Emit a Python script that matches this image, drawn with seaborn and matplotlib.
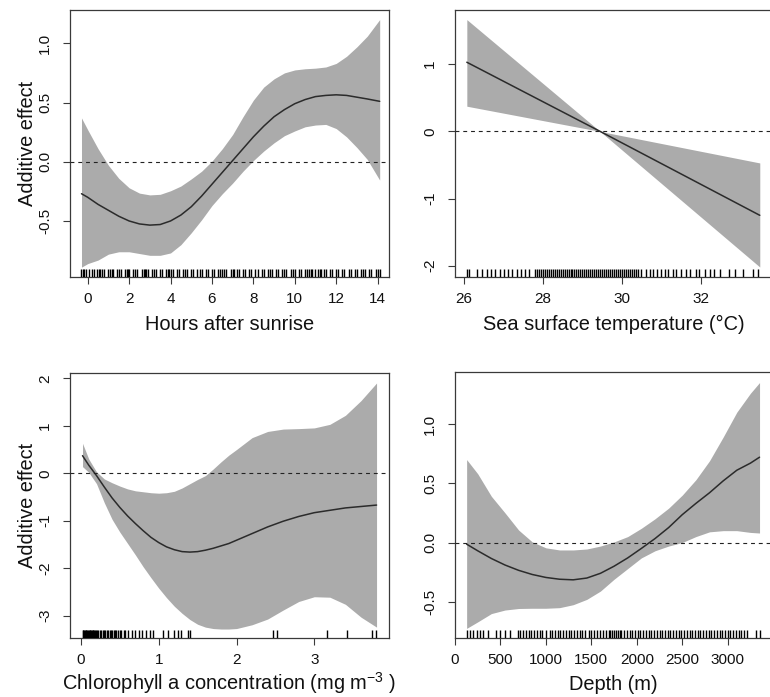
import numpy as np
import pandas as pd
import matplotlib
matplotlib.use("Agg")
import matplotlib.pyplot as plt
import seaborn as sns

# ---------------- data ----------------
# Panel 1: Hours after sunrise
hours_x = [-0.3, 0.0, 0.5, 1.0, 1.5, 2.0, 2.5, 3.0, 3.5, 4.0, 4.5, 5.0, 5.5, 6.0, 6.5,
           7.0, 7.5, 8.0, 8.5, 9.0, 9.5, 10.0, 10.5, 11.0, 11.5, 12.0, 12.5, 13.0, 13.5, 14.1]
hours_fit = [-0.27, -0.30, -0.36, -0.41, -0.46, -0.50, -0.525, -0.535, -0.53, -0.50, -0.45,
             -0.38, -0.29, -0.19, -0.09, 0.01, 0.11, 0.21, 0.30, 0.38, 0.44, 0.49, 0.525,
             0.55, 0.56, 0.565, 0.56, 0.545, 0.53, 0.51]
hours_upper = [0.37, 0.27, 0.11, -0.03, -0.14, -0.22, -0.265, -0.28, -0.275, -0.245, -0.205,
               -0.145, -0.08, 0.005, 0.11, 0.23, 0.38, 0.52, 0.63, 0.70, 0.75, 0.775, 0.785,
               0.79, 0.80, 0.83, 0.89, 0.97, 1.06, 1.20]
hours_lower = [-0.89, -0.86, -0.83, -0.78, -0.76, -0.76, -0.775, -0.79, -0.79, -0.77, -0.70,
               -0.60, -0.49, -0.37, -0.27, -0.18, -0.08, 0.01, 0.09, 0.16, 0.22, 0.26, 0.295,
               0.31, 0.315, 0.28, 0.21, 0.12, 0.02, -0.155]
hours_rug = [-0.3, -0.25, -0.2, -0.1, 0.05, 0.2, 0.3, 0.45, 0.55, 0.6, 0.7, 0.8, 1.0, 1.1,
             1.15, 1.2, 1.4, 1.5, 1.6, 1.8, 1.9, 1.95, 2.0, 2.2, 2.3, 2.4, 2.6, 2.7, 2.75, 2.8,
             2.9, 3.1, 3.2, 3.3, 3.5, 3.6, 3.8, 3.9, 3.95, 4.0, 4.1, 4.3, 4.4, 4.6, 4.7, 4.8,
             5.0, 5.1, 5.3, 5.4, 5.5, 5.7, 5.8, 6.0, 6.1, 6.3, 6.4, 6.5, 6.6, 6.7, 6.9, 7.0,
             7.05, 7.2, 7.3, 7.5, 7.6, 7.8, 7.9, 8.1, 8.2, 8.4, 8.5, 8.7, 8.8, 8.9, 9.1, 9.2,
             9.4, 9.5, 9.6, 9.8, 9.9, 10.0, 10.2, 10.3, 10.5, 10.6, 10.7, 10.8, 10.85, 11.0,
             11.1, 11.2, 11.25, 11.4, 11.5, 11.7, 11.8, 12.0, 12.1, 12.3, 12.4, 12.6, 12.7,
             12.9, 13.0, 13.2, 13.3, 13.4, 13.6, 13.7, 13.9, 14.0, 14.1]
hours_ticks = [0, 2, 4, 6, 8, 10, 12, 14]
hours_yticks = [-0.5, 0.0, 0.5, 1.0]
hours_yticklabels = ["-0.5", "0.0", "0.5", "1.0"]

# Panel 2: Sea surface temperature
sst_x = [26.07, 29.45, 33.5]
sst_fit = [1.03, 0.0, -1.25]
sst_upper = [1.665, 0.0, -0.47]
sst_lower = [0.375, 0.0, -2.02]
sst_rug = [26.07, 26.13, 26.32, 26.45, 26.57, 26.68, 26.78, 26.91, 27.02, 27.12, 27.22,
           27.33, 27.44, 27.55, 27.65, 27.8, 27.85, 27.9, 27.95, 28.0, 28.05, 28.1, 28.15,
           28.2, 28.25, 28.3, 28.35, 28.4, 28.45, 28.5, 28.55, 28.6, 28.65, 28.7, 28.75, 28.8,
           28.85, 28.9, 28.95, 29.0, 29.05, 29.1, 29.15, 29.2, 29.25, 29.3, 29.35, 29.4, 29.45,
           29.5, 29.55, 29.6, 29.65, 29.7, 29.75, 29.8, 29.85, 29.9, 29.95, 30.0, 30.05,
           30.1, 30.15, 30.2, 30.25, 30.3, 30.35, 30.4, 30.5, 30.62, 30.71, 30.79, 30.89,
           31.0, 31.09, 31.17, 31.3, 31.38, 31.51, 31.62, 31.72, 31.87, 31.97, 32.1, 32.23,
           32.35, 32.48, 32.73, 32.86, 33.07, 33.32, 33.45]
sst_ticks = [26, 28, 30, 32]
sst_yticks = [-2, -1, 0, 1]
sst_yticklabels = ["-2", "-1", "0", "1"]

# Panel 3: Chlorophyll a concentration
chl_x = [0.02, 0.1, 0.2, 0.3, 0.4, 0.5, 0.6, 0.7, 0.8, 0.9, 1.0, 1.1, 1.2, 1.3, 1.4, 1.5,
         1.6, 1.7, 1.8, 1.9, 2.0, 2.2, 2.4, 2.6, 2.8, 3.0, 3.2, 3.4, 3.6, 3.8]
chl_fit = [0.37, 0.17, -0.05, -0.29, -0.52, -0.72, -0.90, -1.06, -1.21, -1.35, -1.46,
           -1.55, -1.61, -1.65, -1.66, -1.65, -1.62, -1.58, -1.53, -1.48, -1.41, -1.27,
           -1.13, -1.01, -0.91, -0.83, -0.78, -0.73, -0.70, -0.67]
chl_upper = [0.63, 0.30, 0.03, -0.12, -0.20, -0.27, -0.33, -0.37, -0.39, -0.41, -0.42,
             -0.41, -0.38, -0.31, -0.22, -0.13, -0.05, 0.09, 0.24, 0.38, 0.50, 0.75, 0.88,
             0.93, 0.94, 0.955, 1.03, 1.22, 1.53, 1.90]
chl_lower = [0.14, 0.02, -0.22, -0.62, -0.97, -1.24, -1.48, -1.72, -1.97, -2.20, -2.42,
             -2.62, -2.80, -2.95, -3.08, -3.18, -3.24, -3.27, -3.28, -3.28, -3.27, -3.19,
             -3.07, -2.88, -2.70, -2.60, -2.61, -2.76, -3.03, -3.24]
chl_rug = [0.02, 0.03, 0.04, 0.05, 0.06, 0.07, 0.08, 0.09, 0.10, 0.11, 0.12, 0.13, 0.14,
           0.15, 0.16, 0.17, 0.18, 0.19, 0.20, 0.22, 0.24, 0.26, 0.28, 0.30, 0.31, 0.33,
           0.35, 0.37, 0.38, 0.40, 0.42, 0.44, 0.45, 0.47, 0.50, 0.52, 0.55, 0.57, 0.61,
           0.65, 0.69, 0.74, 0.78, 0.84, 0.89, 0.92, 1.05, 1.12, 1.19, 1.25, 1.29, 1.38,
           1.40, 2.47, 2.52, 3.16, 3.42, 3.74, 3.79]
chl_ticks = [0, 1, 2, 3]
chl_yticks = [-3, -2, -1, 0, 1, 2]
chl_yticklabels = ["-3", "-2", "-1", "0", "1", "2"]

# Panel 4: Depth
depth_x = [128, 250, 400, 550, 700, 850, 1000, 1150, 1300, 1450, 1600, 1750, 1900, 2050,
           2200, 2350, 2500, 2650, 2800, 2950, 3100, 3250, 3350]
depth_fit = [-0.014, -0.07, -0.135, -0.19, -0.235, -0.27, -0.295, -0.31, -0.315, -0.30,
             -0.26, -0.20, -0.13, -0.05, 0.033, 0.126, 0.235, 0.33, 0.42, 0.52, 0.61, 0.67,
             0.72]
depth_upper = [0.70, 0.58, 0.39, 0.25, 0.105, 0.005, -0.045, -0.063, -0.063, -0.055, -0.03,
               0.005, 0.05, 0.12, 0.20, 0.29, 0.40, 0.53, 0.69, 0.89, 1.10, 1.26, 1.35]
depth_lower = [-0.725, -0.67, -0.60, -0.57, -0.557, -0.555, -0.555, -0.55, -0.525, -0.48,
               -0.41, -0.31, -0.22, -0.13, -0.07, -0.03, 0.0, 0.05, 0.09, 0.10, 0.10, 0.085,
               0.08]
depth_rug = [128, 160, 200, 240, 275, 310, 365, 455, 495, 550, 600, 690, 720, 750, 780, 810,
             840, 870, 900, 930, 960, 1000, 1040, 1070, 1100, 1130, 1160, 1190, 1220, 1250,
             1280, 1310, 1340, 1370, 1400, 1430, 1470, 1500, 1530, 1560, 1600, 1630, 1660,
             1690, 1710, 1730, 1750, 1770, 1790, 1810, 1830, 1860, 1890, 1920, 1950, 1980,
             2010, 2040, 2070, 2100, 2130, 2160, 2190, 2220, 2250, 2280, 2310, 2340, 2370,
             2400, 2430, 2460, 2490, 2520, 2550, 2580, 2610, 2640, 2670, 2700, 2730, 2760,
             2790, 2820, 2850, 2880, 2910, 2940, 2970, 3000, 3030, 3060, 3090, 3120, 3150,
             3180, 3210, 3315, 3352]
depth_ticks = [0, 500, 1000, 1500, 2000, 2500, 3000]
depth_yticks = [-0.5, 0.0, 0.5, 1.0]
depth_yticklabels = ["-0.5", "0.0", "0.5", "1.0"]

xlabels = ["Hours after sunrise", "Sea surface temperature (°C)",
           "Chlorophyll a concentration (mg m$^{-3}$ )", "Depth (m)"]
ylabel_text = "Additive effect"

# ---------------- style ----------------
sns.set_style("ticks")
plt.rcParams["font.family"] = ["Liberation Sans", "DejaVu Sans"]
plt.rcParams["mathtext.fontset"] = "custom"
plt.rcParams["mathtext.rm"] = "Liberation Sans"
plt.rcParams["mathtext.default"] = "regular"
plt.rcParams["axes.unicode_minus"] = False

W, H = 770, 697
fig = plt.figure(figsize=(W / 100, H / 100), dpi=100)
fig.patch.set_facecolor("white")

def add_ax(l, r, t, b):
    return fig.add_axes([l / W, 1 - b / H, (r - l) / W, (b - t) / H])

panels = [
    dict(box=(70, 389, 10, 277), x=hours_x, fit=hours_fit, up=hours_upper, lo=hours_lower,
         rug=hours_rug, xt=hours_ticks, xtl=[str(v) for v in hours_ticks],
         yt=hours_yticks, ytl=hours_yticklabels, xlim=(-0.855, 14.55), ylim=(-0.973, 1.281),
         xlabel=xlabels[0], ylabel=True, rlw=1.6, xlab_off=38),
    dict(box=(455, 772, 10, 277), x=sst_x, fit=sst_fit, up=sst_upper, lo=sst_lower,
         rug=sst_rug, xt=sst_ticks, xtl=[str(v) for v in sst_ticks],
         yt=sst_yticks, ytl=sst_yticklabels, xlim=(25.77, 33.81), ylim=(-2.169, 1.808),
         xlabel=xlabels[1], ylabel=False, rlw=1.3, xlab_off=38),
    dict(box=(70, 389, 373, 638), x=chl_x, fit=chl_fit, up=chl_upper, lo=chl_lower,
         rug=chl_rug, xt=chl_ticks, xtl=[str(v) for v in chl_ticks],
         yt=chl_yticks, ytl=chl_yticklabels, xlim=(-0.141, 3.96), ylim=(-3.469, 2.111),
         xlabel=xlabels[2], ylabel=True, rlw=1.2, xlab_off=32),
    dict(box=(455, 772, 372, 638), x=depth_x, fit=depth_fit, up=depth_upper, lo=depth_lower,
         rug=depth_rug, xt=depth_ticks, xtl=[str(v) for v in depth_ticks],
         yt=depth_yticks, ytl=depth_yticklabels, xlim=(0, 3487), ylim=(-0.806, 1.439),
         xlabel=xlabels[3], ylabel=False, rlw=1.6, xlab_off=37),
]

band_color = "#ababab"
line_color = "#2b2b2b"
edge_color = "#3a3a3a"

for p in panels:
    l, r, t, b = p["box"]
    ax = add_ax(l, r, t, b)
    ax.set_facecolor("white")
    ax.fill_between(p["x"], p["lo"], p["up"], color=band_color, lw=0, zorder=1)
    df = pd.DataFrame({"x": p["x"], "y": p["fit"]})
    sns.lineplot(data=df, x="x", y="y", ax=ax, color=line_color, lw=1.1,
                 estimator=None, sort=False, zorder=3)
    ax.axhline(0, color="#222222", lw=0.8, ls=(0, (3.5, 3.5)), zorder=4)
    sns.rugplot(x=p["rug"], ax=ax, height=0.03, color="black", lw=p["rlw"],
                expand_margins=False, zorder=5)
    ax.set_xlim(*p["xlim"])
    ax.set_ylim(*p["ylim"])
    ax.set_xticks(p["xt"])
    ax.set_xticklabels(p["xtl"])
    ax.set_yticks(p["yt"])
    ax.set_yticklabels(p["ytl"], rotation=90, va="center")
    ax.tick_params(direction="out", length=5, width=0.8, color=edge_color,
                   labelsize=11, labelcolor="#111111")
    ax.tick_params(axis="x", pad=6)
    ax.tick_params(axis="y", pad=8)
    for s in ax.spines.values():
        s.set_visible(True)
        s.set_color(edge_color)
        s.set_linewidth(0.9)
    ax.set_xlabel(p["xlabel"], fontsize=14.4, color="#111111")
    ax.xaxis.set_label_coords(0.5, -p["xlab_off"] / (b - t))
    if p["ylabel"]:
        ax.set_ylabel(ylabel_text, fontsize=14.4, color="#111111")
        ax.yaxis.set_label_coords((37 - l) / (r - l), 0.5)
    else:
        ax.set_ylabel("")

fig.savefig("out.png", dpi=100, facecolor="white")
